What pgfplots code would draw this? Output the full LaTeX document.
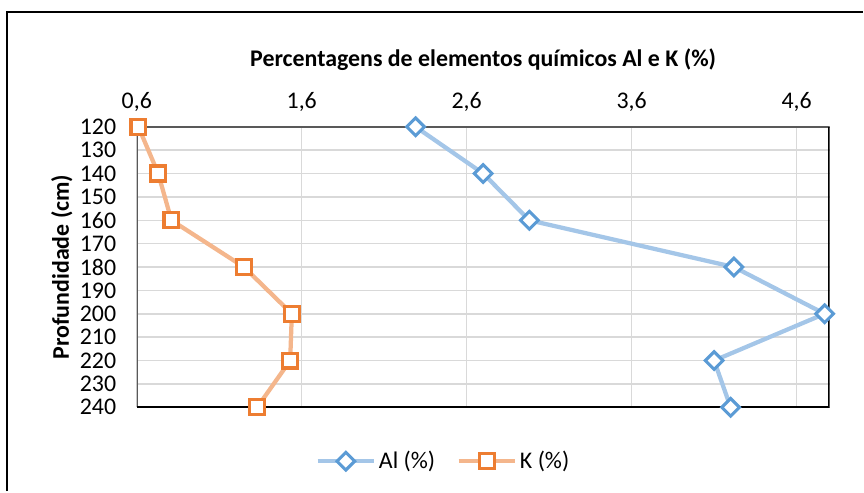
\documentclass[border=0pt]{standalone}
\usepackage{pgfplots}
\pgfplotsset{compat=1.18}
\usepackage{fontspec}
\setmainfont{Carlito}
\definecolor{alline}{RGB}{164,198,232}
\definecolor{almark}{RGB}{91,155,213}
\definecolor{kline}{RGB}{244,182,140}
\definecolor{kmark}{RGB}{237,125,49}
\definecolor{gridc}{RGB}{217,217,217}
\begin{document}
\begin{tikzpicture}
\path (0bp,0bp) rectangle (648bp,369bp);
\draw[black, line width=2.2bp] (5.25bp,0bp) -- (5.25bp,360bp) -- (648bp,360bp);
\begin{axis}[
    at={(102.75bp,63bp)}, anchor=south west,
    scale only axis,
    width=520.5bp, height=210.75bp,
    xmin=0.6, xmax=4.8, ymin=120, ymax=240,
    y dir=reverse,
    xticklabel pos=upper,
    xtick={0.6,1.6,2.6,3.6,4.6},
    ytick={120,130,...,240},
    major tick length=0pt,
    x tick label style={/pgf/number format/use comma, /pgf/number format/fixed,
        /pgf/number format/fixed zerofill, /pgf/number format/precision=1, yshift=8bp},
    y tick label style={/pgf/number format/fixed, /pgf/number format/precision=0, xshift=-12bp},
    /pgf/number format/assume math mode=true,
    tick label style={font=\fontsize{18}{20}\selectfont, text=black},
    grid=major,
    grid style={gridc, line width=1.1bp},
    axis line style={draw=none},
    xlabel={\textbf{Percentagens de elementos químicos Al e K (\%)}},
    xlabel style={at={(axis description cs:0.5,1.238)}, anchor=center, font=\fontsize{18}{20}\selectfont},
    ylabel={\textbf{Profundidade (cm)}},
    ylabel style={at={(axis description cs:-0.108,0.5)}, anchor=center, font=\fontsize{18}{20}\selectfont},
    legend style={at={(axis description cs:0.443,-0.192)}, anchor=center, draw=none,
        legend columns=2, font=\fontsize{18}{20}\selectfont,
        /tikz/every even column/.append style={column sep=14bp}},
    legend image code/.code={\draw[#1,mark repeat=2,mark phase=2] plot coordinates {(0cm,0cm) (0.75cm,0cm) (1.5cm,0cm)};},
]
\addplot[alline, line width=3.2bp, mark=square*, mark size=4.7bp,
    mark options={rotate=45, draw=almark, fill=white, line width=2.3bp}]
    coordinates {(2.29,120) (2.70,140) (2.98,160) (4.22,180) (4.77,200) (4.10,220) (4.20,240)};
\addlegendentry{Al (\%)}
\addplot[kline, line width=3.2bp, mark=square*, mark size=5.6bp,
    mark options={draw=kmark, fill=white, line width=2.4bp}]
    coordinates {(0.61,120) (0.73,140) (0.81,160) (1.25,180) (1.54,200) (1.53,220) (1.33,240)};
\addlegendentry{K (\%)}
\draw[gray!70!black, line width=1.5bp] (axis description cs:0,0) -- (axis description cs:0,1) -- (axis description cs:1,1);
\draw[black, line width=1.8bp] (axis description cs:0,0) -- (axis description cs:1,0) -- (axis description cs:1,1);
\end{axis}
\end{tikzpicture}
\end{document}
